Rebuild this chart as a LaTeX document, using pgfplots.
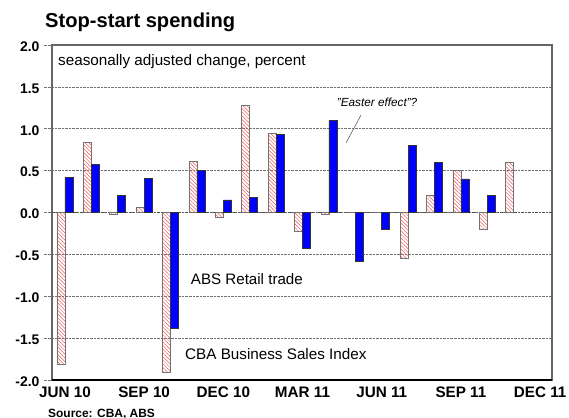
\documentclass[border=0pt]{standalone}
\usepackage{pgfplots}
\pgfplotsset{compat=1.18}
\usepackage{fontspec}
\setmainfont{Liberation Sans}
\usetikzlibrary{patterns.meta}
\definecolor{hatchred}{RGB}{235,90,90}
\definecolor{absblue}{RGB}{0,0,255}
\begin{document}
\begin{tikzpicture}
\useasboundingbox (-52bp,-38bp) rectangle (517bp,380bp);
\begin{axis}[
  scale only axis, width=500bp, height=335bp,
  at={(0,0)}, anchor=south west,
  xmin=-0.49, xmax=18.45, ymin=-2, ymax=2,
  axis line style={draw=black!60, line width=1.3bp},
  ytick={-2,-1.5,...,2},
  yticklabel style={font=\fontsize{14}{15}\selectfont\bfseries, xshift=-9bp, yshift=-1.5bp,
    /pgf/number format/fixed, /pgf/number format/fixed zerofill,
    /pgf/number format/precision=1, /pgf/number format/assume math mode=true},
  ytick pos=left,
  major tick length=8bp,
  ytick style={xshift=-8bp, densely dotted, black!55, line width=0.6bp},
  ymajorgrids,
  major grid style={densely dotted, black!55, line width=0.6bp},
  xtick={0,3,...,18},
  xticklabels={JUN 10,SEP 10,DEC 10,MAR 11,JUN 11,SEP 11,DEC 11},
  xticklabel style={font=\fontsize{15.3}{16}\selectfont\bfseries, yshift=-3.5bp},
  xtick pos=bottom,
  xtick style={draw=none},
  minor xtick={0,...,18},
  minor tick length=5bp,
  minor x tick style={black, line width=0.6bp},
  extra y ticks={0}, extra y tick labels={},
  extra y tick style={ymajorgrids=true, major grid style={dash pattern=on 3bp off 1.5bp on 1bp off 1.5bp, black!70, line width=0.7bp}, ytick style={draw=none}},
]
\addplot[ybar, bar width=8bp, bar shift=-4bp, draw=black!55, line width=0.6bp,
  pattern={Lines[angle=-45,distance=2.6bp,line width=0.5bp]}, pattern color=hatchred]
  coordinates {(0,-1.81) (1,0.84) (2,-0.02) (3,0.06) (4,-1.91) (5,0.61) (6,-0.06)
  (7,1.28) (8,0.94) (9,-0.22) (10,-0.02) (11,0) (12,0) (13,-0.55) (14,0.20)
  (15,0.50) (16,-0.20) (17,0.60)};
\addplot[ybar, bar width=8bp, bar shift=4bp, draw=black!80, line width=0.6bp, fill=absblue]
  coordinates {(0,0.42) (1,0.57) (2,0.20) (3,0.41) (4,-1.38) (5,0.50) (6,0.15)
  (7,0.18) (8,0.93) (9,-0.43) (10,1.10) (11,-0.58) (12,-0.20) (13,0.80)
  (14,0.60) (15,0.40) (16,0.20)};
\draw[black, line width=1.3bp] (rel axis cs:0,0) -- (rel axis cs:1,0);
\end{axis}
\node[anchor=base west, inner sep=0, font=\fontsize{20.2}{22}\selectfont\bfseries] at (-7bp,352.7bp) {Stop-start spending};
\node[anchor=base west, inner sep=0, font=\fontsize{12}{13}\selectfont\bfseries] at (-4bp,-37bp) {Source: CBA, ABS};
\node[anchor=base west, inner sep=0, font=\fontsize{15.3}{16}\selectfont] at (6bp,314.3bp) {seasonally adjusted change, percent};
\node[anchor=base west, inner sep=0, font=\fontsize{11.8}{12}\selectfont\itshape] at (284.7bp,273.3bp) {"Easter effect"?};
\draw[black!70, line width=0.5bp] (309bp,265bp) -- (294bp,237bp);
\node[anchor=base west, inner sep=0, font=\fontsize{15.2}{16}\selectfont] at (138.7bp,95bp) {ABS Retail trade};
\node[anchor=base west, inner sep=0, font=\fontsize{15.3}{16}\selectfont] at (133bp,20.7bp) {CBA Business Sales Index};
\end{tikzpicture}
\end{document}
